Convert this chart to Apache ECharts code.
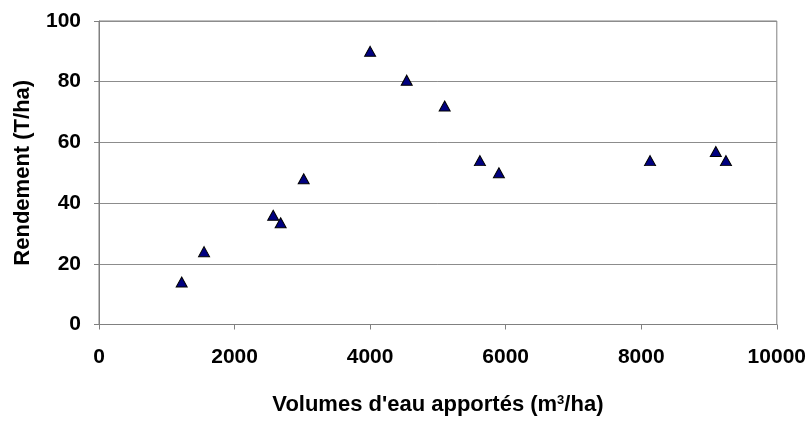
<!DOCTYPE html>
<html><head><meta charset="utf-8">
<script src="https://cdn.jsdelivr.net/npm/echarts@6/dist/echarts.min.js"></script>
<style>html,body{margin:0;padding:0;background:#fff}#c{width:809px;height:421px}</style>
</head><body><div id="c"></div>
<script>
const volumes = [1220, 1550, 2570, 2680, 3020, 4000, 4540, 5100, 5620, 5900, 8130, 9100, 9250];
const rendement = [14, 24, 36, 33.5, 48, 90, 80.5, 72, 54, 50, 54, 57, 54];
const xTitle = "Volumes d'eau apportés (m{sup|3}/ha)";
const yTitle = "Rendement (T/ha)";

const chart = echarts.init(document.getElementById('c'));
const font = 'Liberation Sans, Arial, sans-serif';
chart.setOption({
  animation: false,
  grid: {left: 99, right: 32, top: 21, bottom: 95, show: true, borderColor: '#808080', borderWidth: 1},
  xAxis: {
    type: 'value', min: 0, max: 10000, interval: 2000,
    name: xTitle, nameLocation: 'middle', nameGap: 69,
    nameTextStyle: {fontFamily: font, fontWeight: 'bold', fontSize: 22, color: '#000',
      rich: {sup: {fontFamily: font, fontWeight: 'bold', fontSize: 13, color: '#000', verticalAlign: 'top', padding: [0,0,10,0]}}},
    axisLine: {lineStyle: {color: '#808080'}},
    axisTick: {show: true, length: 5, lineStyle: {color: '#808080'}},
    axisLabel: {fontFamily: font, fontWeight: 'bold', fontSize: 21, color: '#000', margin: 22,
      formatter: v => String(v)},
    splitLine: {show: false}
  },
  yAxis: {
    type: 'value', min: 0, max: 100, interval: 20,
    name: yTitle, nameLocation: 'middle', nameGap: 65,
    nameTextStyle: {fontFamily: font, fontWeight: 'bold', fontSize: 22, color: '#000'},
    axisLine: {show: true, lineStyle: {color: '#808080'}},
    axisTick: {show: true, length: 5, lineStyle: {color: '#808080'}},
    axisLabel: {fontFamily: font, fontWeight: 'bold', fontSize: 21, color: '#000', margin: 18,
      formatter: v => String(v)},
    splitLine: {show: true, lineStyle: {color: '#8c8c8c', width: 1}}
  },
  series: [{
    type: 'scatter',
    data: volumes.map((v, i) => [v, rendement[i]]),
    symbol: 'triangle', symbolSize: [11, 10],
    itemStyle: {color: '#000080', borderColor: '#000', borderWidth: 1, opacity: 1}
  }]
});
</script>
</body></html>
